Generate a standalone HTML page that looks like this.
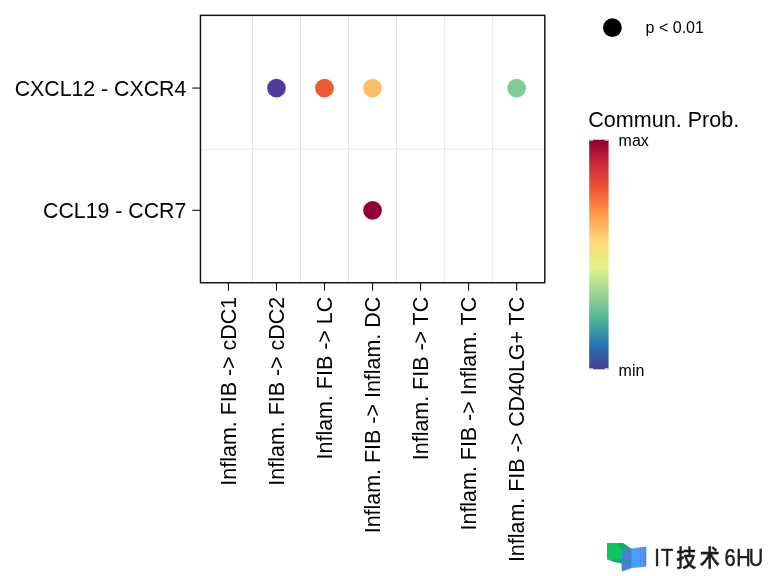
<!DOCTYPE html>
<html lang="en">
<head>
<meta charset="utf-8">
<title>Communication probability dot plot</title>
<style>
  html, body { margin: 0; padding: 0; background: #ffffff; }
  body { width: 768px; height: 576px; overflow: hidden; }
  svg { display: block; will-change: transform; }
  text { font-family: "Liberation Sans", "Noto Sans CJK SC", sans-serif; fill: #000; }
  .ax { font-size: 21.45px; }
  .ay { font-size: 21.3px; }
  .lt { font-size: 21.55px; }
  .ll { font-size: 16px; }
  .wm { font-size: 23px; font-weight: 500; fill: #1c1c1c; stroke: #1c1c1c; stroke-width: 0.45px; }
</style>
</head>
<body>
<svg width="768" height="576" viewBox="0 0 768 576">
  <defs>
    <linearGradient id="spectral" x1="0" y1="1" x2="0" y2="0">
      <stop offset="0.0000" stop-color="#4B3D93"/>
      <stop offset="0.0278" stop-color="#414B9A"/>
      <stop offset="0.0556" stop-color="#3759A2"/>
      <stop offset="0.0833" stop-color="#2D67A9"/>
      <stop offset="0.1111" stop-color="#2376B1"/>
      <stop offset="0.1389" stop-color="#2E86AA"/>
      <stop offset="0.1667" stop-color="#3A96A3"/>
      <stop offset="0.1944" stop-color="#47A69D"/>
      <stop offset="0.2222" stop-color="#53B796"/>
      <stop offset="0.2500" stop-color="#65BE96"/>
      <stop offset="0.2778" stop-color="#77C695"/>
      <stop offset="0.3056" stop-color="#8ACE95"/>
      <stop offset="0.3333" stop-color="#9DD695"/>
      <stop offset="0.3611" stop-color="#ADDD92"/>
      <stop offset="0.3889" stop-color="#BEE48E"/>
      <stop offset="0.4167" stop-color="#CFEC8B"/>
      <stop offset="0.4444" stop-color="#E1F388"/>
      <stop offset="0.4722" stop-color="#E8ED84"/>
      <stop offset="0.5000" stop-color="#EFE681"/>
      <stop offset="0.5278" stop-color="#F6E07D"/>
      <stop offset="0.5556" stop-color="#FEDA7A"/>
      <stop offset="0.5833" stop-color="#FDCB6F"/>
      <stop offset="0.6111" stop-color="#FDBC64"/>
      <stop offset="0.6389" stop-color="#FDAE59"/>
      <stop offset="0.6667" stop-color="#FDA04E"/>
      <stop offset="0.6944" stop-color="#FA8E47"/>
      <stop offset="0.7222" stop-color="#F77C40"/>
      <stop offset="0.7500" stop-color="#F46B39"/>
      <stop offset="0.7778" stop-color="#F25A32"/>
      <stop offset="0.8056" stop-color="#E84F35"/>
      <stop offset="0.8333" stop-color="#DF4337"/>
      <stop offset="0.8611" stop-color="#D6383A"/>
      <stop offset="0.8889" stop-color="#CD2D3D"/>
      <stop offset="0.9167" stop-color="#BD203A"/>
      <stop offset="0.9444" stop-color="#AD1437"/>
      <stop offset="0.9722" stop-color="#9D0934"/>
      <stop offset="1.0000" stop-color="#8E0031"/>
    </linearGradient>
  </defs>
  <rect x="0" y="0" width="768" height="576" fill="#ffffff"/>

  <!-- separator grid lines -->
  <g stroke="#dadada" stroke-width="0.65" fill="none">
    <line x1="252.46" y1="15.35" x2="252.46" y2="282.75"/>
    <line x1="300.50" y1="15.35" x2="300.50" y2="282.75"/>
    <line x1="348.52" y1="15.35" x2="348.52" y2="282.75"/>
    <line x1="396.55" y1="15.35" x2="396.55" y2="282.75"/>
    <line x1="444.58" y1="15.35" x2="444.58" y2="282.75"/>
    <line x1="492.62" y1="15.35" x2="492.62" y2="282.75"/>
    <line x1="200.45" y1="149.20" x2="544.80" y2="149.20"/>
  </g>

  <!-- dots -->
  <circle cx="276.48" cy="88.05" r="9.35" fill="#4F3C96"/>
  <circle cx="324.51" cy="88.05" r="9.35" fill="#EE5A36"/>
  <circle cx="372.54" cy="88.05" r="9.35" fill="#FCBE66"/>
  <circle cx="516.63" cy="88.05" r="9.35" fill="#83CA96"/>
  <circle cx="372.54" cy="210.35" r="9.35" fill="#920038"/>

  <!-- panel border -->
  <rect x="200.45" y="15.35" width="344.35" height="267.40" fill="none" stroke="#111" stroke-width="1.45"/>

  <!-- axis ticks -->
  <g stroke="#111" stroke-width="1.1" fill="none">
    <line x1="192.25" y1="88.05" x2="200.45" y2="88.05"/>
    <line x1="192.25" y1="210.35" x2="200.45" y2="210.35"/>
    <line x1="228.45" y1="282.75" x2="228.45" y2="290.75"/>
    <line x1="276.48" y1="282.75" x2="276.48" y2="290.75"/>
    <line x1="324.51" y1="282.75" x2="324.51" y2="290.75"/>
    <line x1="372.54" y1="282.75" x2="372.54" y2="290.75"/>
    <line x1="420.57" y1="282.75" x2="420.57" y2="290.75"/>
    <line x1="468.60" y1="282.75" x2="468.60" y2="290.75"/>
    <line x1="516.63" y1="282.75" x2="516.63" y2="290.75"/>
  </g>

  <!-- y axis labels -->
  <text class="ay" x="186.3" y="95.70" text-anchor="end">CXCL12 - CXCR4</text>
  <text class="ay" x="186.3" y="218.00" text-anchor="end">CCL19 - CCR7</text>

  <!-- x axis labels (rotated) -->
  <g class="ax" text-anchor="end">
    <text transform="translate(236.20,296.8) rotate(-90)">Inflam. FIB -&gt; cDC1</text>
    <text transform="translate(284.23,296.8) rotate(-90)">Inflam. FIB -&gt; cDC2</text>
    <text transform="translate(332.26,296.8) rotate(-90)">Inflam. FIB -&gt; LC</text>
    <text transform="translate(380.29,296.8) rotate(-90)">Inflam. FIB -&gt; Inflam. DC</text>
    <text transform="translate(428.32,296.8) rotate(-90)">Inflam. FIB -&gt; TC</text>
    <text transform="translate(476.35,296.8) rotate(-90)">Inflam. FIB -&gt; Inflam. TC</text>
    <text transform="translate(524.38,296.8) rotate(-90)">Inflam. FIB -&gt; CD40LG+ TC</text>
  </g>

  <!-- size legend -->
  <circle cx="612.4" cy="27.7" r="9.4" fill="#000"/>
  <text class="ll" x="645.6" y="33.4">p &lt; 0.01</text>

  <!-- colour legend -->
  <text class="lt" x="588.3" y="126.7">Commun. Prob.</text>
  <rect x="589.2" y="139.7" width="19.4" height="229.6" fill="url(#spectral)"/>
  <g stroke="#ffffff" stroke-width="1.1">
    <line x1="589.2" y1="140.1" x2="593.1" y2="140.1"/><line x1="604.7" y1="140.1" x2="608.6" y2="140.1"/>
    <line x1="589.2" y1="368.9" x2="593.1" y2="368.9"/><line x1="604.7" y1="368.9" x2="608.6" y2="368.9"/>
  </g>
  <text class="ll" x="618.6" y="145.8">max</text>
  <text class="ll" x="618.6" y="375.5">min</text>

  <!-- watermark -->
  <g>
    <polygon points="607,543 623.5,543 623.5,561 607,559.5" fill="#10C262"/>
    <polygon points="617,543 624,543.4 631.8,549 623,551.5" fill="#15A86C"/>
    <polygon points="607,559.3 623,559.5 623,564 614,562" fill="#12A87A"/>
    <polygon points="622.8,549.5 632,548.5 632,568 622.3,571.5 621.5,568" fill="#4A7FD6"/>
    <polygon points="622.6,559.6 631.6,560 631.6,563.6 622.4,563.2" fill="#2E8FB4"/>
    <polygon points="631.5,548.5 640.4,547.3 640.4,567.2 631.5,568" fill="#48A0FA"/>
    <polygon points="640,547.3 646.3,546.4 646.3,566.5 640,567.2" fill="#4C8CEC"/>
    <line x1="642" y1="547.5" x2="642" y2="566.6" stroke="#62A6FA" stroke-width="1"/>
    <text class="wm" transform="translate(0,565.8) scale(0.87,1)" x="752.1 759.7 777.4 804.3 832.8 846.2 860.6" y="0">IT技术6HU</text>
  </g>
</svg>
</body>
</html>
